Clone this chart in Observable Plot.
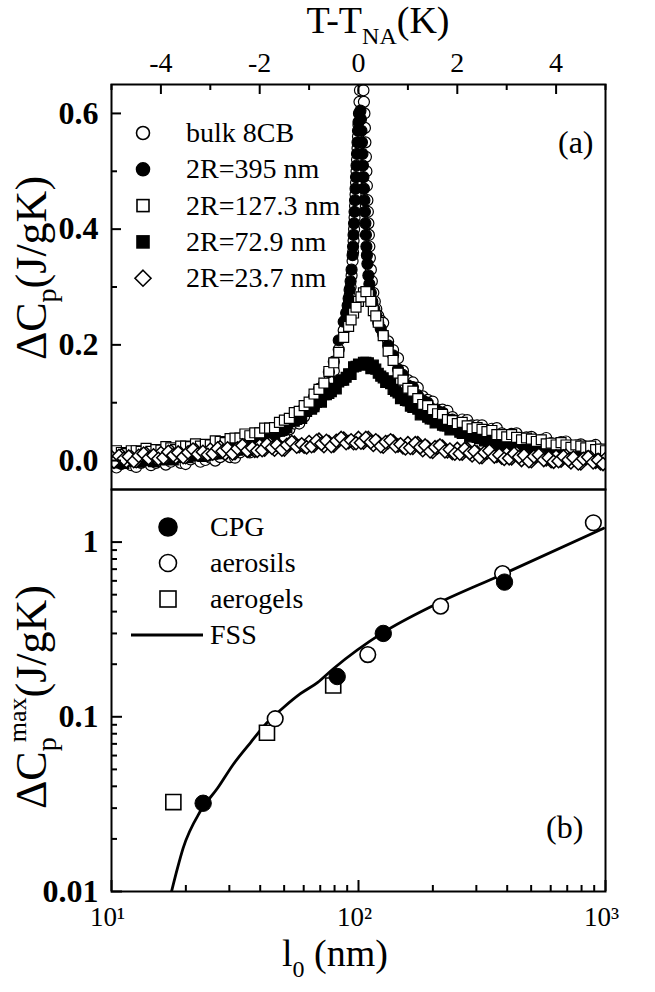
<!DOCTYPE html>
<html><head><meta charset="utf-8">
<script src="https://cdn.jsdelivr.net/npm/d3@7"></script>
<script src="https://cdn.jsdelivr.net/npm/@observablehq/plot@0.6"></script>
<style>
html,body{margin:0;padding:0;background:#fff;}
#wrap{position:relative;width:655px;height:992px;overflow:hidden;background:#fff;}
#wrap svg{position:absolute;left:0;}
</style></head><body><div id="wrap"></div>
<script>
// ---------------- DATA: panel (a) ----------------
const seriesLabels = ["bulk 8CB", "2R=395 nm", "2R=127.3 nm", "2R=72.9 nm", "2R=23.7 nm"];
const tGrid = [-5,-4.9,-4.8,-4.7,-4.6,-4.5,-4.4,-4.3,-4.2,-4.1,-4,-3.9,-3.8,-3.7,-3.6,-3.5,-3.4,-3.3,-3.2,-3.1,
  -3,-2.9,-2.8,-2.7,-2.6,-2.5,-2.4,-2.3,-2.2,-2.1,-2,-1.9,-1.8,-1.7,-1.6,-1.5,-1.4,-1.3,-1.2,-1.1,
  -1,-0.9,-0.8,-0.7,-0.6,-0.5,-0.4,-0.3,-0.2,-0.1,0,0.1,0.2,0.3,0.4,0.5,0.6,0.7,0.8,0.9,
  1,1.1,1.2,1.3,1.4,1.5,1.6,1.7,1.8,1.9,2,2.1,2.2,2.3,2.4,2.5,2.6,2.7,2.8,2.9,
  3,3.1,3.2,3.3,3.4,3.5,3.6,3.7,3.8,3.9,4,4.1,4.2,4.3,4.4,4.5,4.6,4.7,4.8,4.9,5];
const tHalf = [-4.95,-4.85,-4.75,-4.65,-4.55,-4.45,-4.35,-4.25,-4.15,-4.05,-3.95,-3.85,-3.75,-3.65,-3.55,-3.45,-3.35,-3.25,-3.15,-3.05,
  -2.95,-2.85,-2.75,-2.65,-2.55,-2.45,-2.35,-2.25,-2.15,-2.05,-1.95,-1.85,-1.75,-1.65,-1.55,-1.45,-1.35,-1.25,-1.15,-1.05,
  -0.95,-0.85,-0.75,-0.65,-0.55,-0.45,-0.35,-0.25,-0.15,-0.05,0.05,0.15,0.25,0.35,0.45,0.55,0.65,0.75,0.85,0.95,
  1.05,1.15,1.25,1.35,1.45,1.55,1.65,1.75,1.85,1.95,2.05,2.15,2.25,2.35,2.45,2.55,2.65,2.75,2.85,2.95,
  3.05,3.15,3.25,3.35,3.45,3.55,3.65,3.75,3.85,3.95,4.05,4.15,4.25,4.35,4.45,4.55,4.65,4.75,4.85,4.95];
const leftWingT = [-5,-4.9,-4.8,-4.7,-4.6,-4.5,-4.4,-4.3,-4.2,-4.1,-4,-3.9,-3.8,-3.7,-3.6,-3.5,-3.4,-3.3,-3.2,-3.1,
  -3,-2.9,-2.8,-2.7,-2.6,-2.5,-2.4,-2.3,-2.2,-2.1,-2,-1.9,-1.8,-1.7,-1.6,-1.5,-1.4,-1.3,-1.2,-1.1,
  -1,-0.9,-0.8,-0.7,-0.6,-0.5,-0.4,-0.3];
const rightWingT = [0.5,0.6,0.7,0.8,0.9,1,1.1,1.2,1.3,1.4,1.5,1.6,1.7,1.8,1.9,2,2.1,2.2,2.3,2.4,
  2.5,2.6,2.7,2.8,2.9,3,3.1,3.2,3.3,3.4,3.5,3.6,3.7,3.8,3.9,4,4.1,4.2,4.3,4.4,4.5,4.6,4.7,4.8,4.9,5];

// bulk 8CB (open circles)
const bulkLeftCp = [-.005,-.012,-.006,-.002,-.008,-.011,-.004,-.001,-.008,-.004,
  -.001,-.007,-.002,.003,-.004,-.006,.002,.004,-.002,.001,
  .005,.000,.006,.012,.006,.005,.014,.019,.014,.020,
  .025,.022,.031,.040,.038,.041,.054,.064,.064,.076,
  .088,.092,.109,.127,.138,.155,.192,.225];
const bulkPeakT = [-0.25,-0.22,-0.20,-0.18,-0.16,-0.14,-0.12,-0.11,-0.10,-0.09,-0.08,-0.07,-0.06,-0.05,-0.04,-0.03,-0.02,-0.01,0.00,0.01,0.02,0.03,0.04,0.06,
  0.09,0.10,0.11,0.12,0.13,0.14,0.15,0.16,0.17,0.18,0.19,0.20,0.21,0.22,0.23,0.25,0.27,0.30,0.33,0.36,0.40,0.45];
const bulkPeakCp = [.245,.258,.27,.285,.30,.32,.345,.36,.38,.40,.42,.44,.46,.48,.50,.52,.54,.56,.58,.60,.62,.64,.66,.70,
  .68,.64,.62,.60,.575,.55,.525,.50,.475,.45,.43,.41,.39,.37,.35,.33,.31,.29,.275,.262,.25,.242];
const bulkRightCp = [.238,.206,.191,.177,.155,.139,.135,.126,.111,.105,
  .102,.088,.088,.086,.075,.067,.071,.070,.061,.061,
  .061,.052,.055,.056,.047,.042,.046,.047,.038,.040,
  .041,.033,.036,.039,.030,.026,.032,.033,.024,.026,
  .028,.020,.024,.027,.019,.015];

// 2R = 395 nm (filled circles)
const r395LeftCp = [.000,.004,.007,.000,.005,.000,.007,.005,.004,.009,
  .004,.009,.011,.005,.009,.005,.013,.010,.010,.014,
  .010,.016,.019,.014,.019,.016,.025,.025,.026,.033,
  .030,.038,.044,.042,.051,.052,.065,.070,.077,.091,
  .095,.110,.124,.132,.153,.171,.208,.240];
const r395PeakT = [-0.25,-0.22,-0.20,-0.18,-0.16,-0.14,-0.12,-0.11,-0.10,-0.09,-0.08,-0.07,-0.06,-0.05,-0.04,-0.03,-0.02,-0.01,0.00,0.02,0.04,
  0.05,0.06,0.07,0.08,0.09,0.10,0.11,0.12,0.13,0.14,0.15,0.16,0.17,0.18,0.20,0.22,0.25,0.28,0.32,0.36,0.40,0.45];
const r395PeakCp = [.255,.268,.28,.295,.31,.33,.355,.37,.39,.41,.43,.45,.47,.49,.51,.53,.55,.57,.585,.60,.605,
  .59,.57,.55,.53,.51,.49,.47,.45,.43,.41,.39,.37,.355,.34,.32,.305,.29,.275,.262,.25,.238,.228];
const r395RightCp = [.218,.199,.182,.158,.148,.130,.127,.113,.104,.100,
  .089,.086,.083,.071,.071,.061,.065,.059,.055,.056,
  .048,.050,.050,.041,.043,.036,.041,.036,.034,.036,
  .029,.032,.032,.024,.026,.020,.026,.022,.019,.022,
  .016,.019,.020,.012,.015,.009];

// 2R = 127.3 nm (open squares), on tGrid + extra points near the peak
const r127Cp = [.011,.017,.014,.012,.017,.017,.016,.021,.016,.019,
  .018,.024,.022,.019,.025,.025,.024,.029,.025,.028,
  .027,.034,.033,.031,.038,.039,.039,.046,.043,.048,
  .048,.056,.056,.057,.066,.070,.073,.083,.085,.095,
  .101,.115,.123,.134,.154,.169,.187,.213,.232,.255,
  .275,.290,.287,.259,.239,.216,.189,.173,.151,.139,
  .125,.120,.107,.097,.095,.088,.081,.080,.071,.069,
  .064,.066,.060,.055,.057,.054,.050,.052,.045,.045,
  .041,.045,.040,.036,.039,.037,.033,.036,.029,.030,
  .027,.031,.027,.023,.027,.025,.022,.025,.019,.020,
  .017];
const r127ExtraT = [-0.15,-0.05,0.05,0.15,0.25,0.35];
const r127ExtraCp = [.243,.265,.283,.292,.275,.250];

// 2R = 72.9 nm (filled squares), on tGrid and tHalf
const r73Cp = [.002,-.003,.002,.004,.000,.001,.006,.000,.004,.006,
  .007,.003,.008,.010,.006,.008,.013,.008,.012,.015,
  .016,.012,.018,.021,.018,.021,.028,.025,.030,.035,
  .038,.037,.044,.051,.051,.058,.068,.068,.076,.085,
  .091,.093,.104,.114,.116,.125,.136,.139,.150,.162,
  .167,.170,.169,.165,.151,.143,.138,.123,.117,.111,
  .103,.092,.089,.086,.075,.072,.071,.061,.060,.059,
  .056,.047,.048,.048,.040,.039,.041,.033,.034,.034,
  .032,.025,.028,.028,.022,.021,.024,.016,.018,.018,
  .017,.011,.014,.015,.009,.009,.012,.005,.008,.009,
  .008];
const r73HalfCp = [-.004,.002,-.005,.001,-.001,-.003,.005,.002,-.002,.004,
  .001,.007,.001,.008,.006,.005,.013,.010,.007,.013,
  .011,.017,.012,.020,.018,.018,.028,.027,.026,.034,
  .034,.042,.040,.051,.053,.057,.070,.071,.073,.085,
  .089,.101,.101,.114,.119,.124,.139,.144,.149,.163,
  .165,.170,.159,.158,.146,.135,.133,.120,.107,.104,
  .094,.092,.079,.080,.072,.065,.068,.060,.053,.055,
  .049,.051,.041,.044,.038,.034,.039,.033,.027,.030,
  .025,.029,.020,.024,.020,.016,.022,.017,.011,.015,
  .011,.015,.007,.012,.008,.005,.011,.006,.001,.005];

// 2R = 23.7 nm (open diamonds), on tGrid and tHalf
const r24Cp = [.006,.000,.009,-.001,.006,-.001,.009,.012,.005,.004,
  .013,.006,.016,.006,.012,.006,.016,.018,.012,.011,
  .019,.013,.023,.012,.019,.013,.022,.025,.018,.017,
  .026,.019,.029,.019,.025,.019,.029,.031,.025,.024,
  .032,.026,.036,.025,.032,.026,.035,.038,.032,.030,
  .039,.031,.039,.027,.032,.024,.032,.033,.026,.023,
  .030,.022,.030,.018,.023,.015,.023,.024,.016,.013,
  .020,.012,.020,.009,.014,.006,.014,.015,.008,.005,
  .012,.004,.013,.001,.007,-.001,.008,.009,.002,-.001,
  .007,.000,.008,-.003,.002,-.005,.004,.005,-.002,-.005,
  .003];
const r24HalfCp = [-.002,.008,.003,.007,-.001,.008,.012,.004,.009,.003,
  .005,.015,.009,.014,.006,.014,.019,.011,.015,.010,
  .012,.021,.016,.021,.012,.021,.026,.017,.022,.017,
  .018,.028,.022,.027,.019,.027,.032,.024,.028,.023,
  .025,.034,.029,.034,.025,.034,.039,.030,.035,.030,
  .031,.039,.032,.035,.025,.032,.035,.025,.028,.021,
  .022,.030,.023,.026,.016,.023,.026,.016,.019,.012,
  .012,.020,.013,.016,.006,.014,.017,.007,.010,.003,
  .004,.012,.006,.009,-.001,.007,.010,.001,.005,-.002,
  -.001,.007,.001,.005,-.005,.003,.006,-.003,.001,-.006];

// ticks panel (a)
const tMajorTicks = [-4,-2,0,2,4];
const tMinorTicks = [-5,-3,-1,1,3,5];
const cpMajorTicks = [0.0,0.2,0.4,0.6];
const cpMinorTicks = [0.1,0.3,0.5];

// ---------------- DATA: panel (b) ----------------
const legendB = ["CPG", "aerosils", "aerogels", "FSS"];
const cpgL0 = [23.5, 82, 126, 390];
const cpgMax = [0.032, 0.170, 0.300, 0.590];
const aerosilL0 = [46, 109, 215, 383, 893];
const aerosilMax = [0.0975, 0.227, 0.430, 0.660, 1.29];
const aerogelL0 = [17.8, 42.6, 79];
const aerogelMax = [0.0325, 0.081, 0.151];
const fssL0 = [17.5, 18.5, 19.5, 22.9, 26.9, 31.2, 36.5, 42.6, 49.7, 58.2, 68.2, 79.3, 126, 201, 376, 982];
const fssMax = [0.0100, 0.0136, 0.0177, 0.0288, 0.0391, 0.0537, 0.0710, 0.0924, 0.113, 0.1355, 0.157, 0.189, 0.304, 0.434, 0.646, 1.20];
const l0MajorTicks = [10, 100, 1000];
const l0MinorTicks = [20,30,40,50,60,70,80,90,200,300,400,500,600,700,800,900];
const maxMajorTicks = [0.01, 0.1, 1];
const maxMinorTicks = [0.02,0.03,0.04,0.05,0.06,0.07,0.08,0.09,0.2,0.3,0.4,0.5,0.6,0.7,0.8,0.9];
const supDigits = {1: "\u00b9", 2: "\u00b2", 3: "\u00b3"};

// ---------------- BUILD ----------------
const font = '"Liberation Serif", "Times New Roman", Times, serif';
const zip = (ts, cs) => ts.map((t, i) => ({t, cp: cs[i]}));
const bulkData = [...zip(leftWingT, bulkLeftCp), ...zip(bulkPeakT, bulkPeakCp), ...zip(rightWingT, bulkRightCp)];
const r395Data = [...zip(leftWingT, r395LeftCp), ...zip(r395PeakT, r395PeakCp), ...zip(rightWingT, r395RightCp)];
const r127Data = [...zip(tGrid, r127Cp), ...zip(r127ExtraT, r127ExtraCp)];
const r73Data = [...zip(tGrid, r73Cp), ...zip(tHalf, r73HalfCp)];
const r24Data = [...zip(tGrid, r24Cp), ...zip(tHalf, r24HalfCp)];

const diamondSym = {draw(ctx, size) { const r = Math.sqrt(size / Math.PI) * 1.1; ctx.moveTo(0, -r); ctx.lineTo(r, 0); ctx.lineTo(0, r); ctx.lineTo(-r, 0); ctx.closePath(); }};

const wrap = document.getElementById("wrap");
const st = {fontFamily: font, background: "transparent", overflow: "visible", color: "black"};
const innerWA = 655 - 111 - 50;
const innerHA = 489 - 84;
const innerHB = 503 - 101;
const id = d => d;

const plotA = Plot.plot({
  width: 655, height: 489,
  marginTop: 84, marginLeft: 111, marginRight: 50, marginBottom: 0,
  style: st,
  x: {domain: [-5, 5], axis: null},
  y: {domain: [-0.05, 0.65], axis: null},
  marks: [
    Plot.dot(bulkData, {x: "t", y: "cp", r: 5.5, fill: "white", stroke: "black", strokeWidth: 1.2, clip: true}),
    Plot.dot(r395Data, {x: "t", y: "cp", r: 5.5, fill: "black", stroke: "black", strokeWidth: 1.2, clip: true}),
    Plot.dot(r73Data, {x: "t", y: "cp", r: 5.6, symbol: "square", fill: "black", stroke: "black", strokeWidth: 1.2, clip: true}),
    Plot.dot(r127Data, {x: "t", y: "cp", r: 5.6, symbol: "square", fill: "white", stroke: "black", strokeWidth: 1.2, clip: true}),
    Plot.dot(r24Data, {x: "t", y: "cp", r: 6.0, symbol: diamondSym, fill: "white", stroke: "black", strokeWidth: 1.5, clip: true}),
    Plot.frame({stroke: "black", strokeWidth: 2}),
    Plot.ruleX(tMajorTicks, {x: id, insetBottom: innerHA - 10, strokeWidth: 2}),
    Plot.ruleX(tMinorTicks, {x: id, insetBottom: innerHA - 6, strokeWidth: 2}),
    Plot.text(tMajorTicks, {x: id, text: d => String(d), frameAnchor: "top", lineAnchor: "bottom", dy: -13, fontSize: 28}),
    Plot.ruleY(cpMajorTicks, {y: id, insetRight: innerWA - 10, strokeWidth: 2}),
    Plot.ruleY(cpMinorTicks, {y: id, insetRight: innerWA - 6, strokeWidth: 2}),
    Plot.text(cpMajorTicks, {y: id, text: d3.format(".1f"), frameAnchor: "left", textAnchor: "end", dx: -13, fontSize: 32, fontWeight: "bold"})
  ]
});
plotA.style.top = "0px";
wrap.appendChild(plotA);

const plotB = Plot.plot({
  width: 655, height: 503,
  marginTop: 0, marginLeft: 111, marginRight: 50, marginBottom: 101,
  style: st,
  x: {type: "log", domain: [10, 1000], axis: null},
  y: {type: "log", domain: [0.01, 2.0], axis: null},
  marks: [
    Plot.line(fssL0.map((l, i) => ({l, m: fssMax[i]})), {x: "l", y: "m", stroke: "black", strokeWidth: 2.8, curve: "monotone-x", clip: true}),
    Plot.dot(aerogelL0.map((l, i) => ({l, m: aerogelMax[i]})), {x: "l", y: "m", r: 8.5, symbol: "square", fill: "white", stroke: "black", strokeWidth: 1.6}),
    Plot.dot(aerosilL0.map((l, i) => ({l, m: aerosilMax[i]})), {x: "l", y: "m", r: 7.8, fill: "white", stroke: "black", strokeWidth: 1.6}),
    Plot.dot(cpgL0.map((l, i) => ({l, m: cpgMax[i]})), {x: "l", y: "m", r: 8.2, fill: "black", stroke: "black", strokeWidth: 1}),
    Plot.frame({stroke: "black", strokeWidth: 2}),
    Plot.ruleX(l0MajorTicks, {x: id, insetTop: innerHB - 11, strokeWidth: 2}),
    Plot.ruleX(l0MinorTicks, {x: id, insetTop: innerHB - 6, strokeWidth: 2}),
    Plot.text(l0MajorTicks, {x: id, text: d => "10" + supDigits[Math.round(Math.log10(d))], frameAnchor: "bottom", lineAnchor: "top", dy: 15, dx: -4, fontSize: 27}),
    Plot.ruleY(maxMajorTicks, {y: id, insetRight: innerWA - 11, strokeWidth: 2}),
    Plot.ruleY(maxMinorTicks, {y: id, insetRight: innerWA - 6, strokeWidth: 2}),
    Plot.text(maxMajorTicks, {y: id, text: d => String(d), frameAnchor: "left", textAnchor: "end", dx: -13, fontSize: 32, fontWeight: "bold"})
  ]
});
plotB.style.top = "489px";
wrap.appendChild(plotB);

// ---------------- Titles & legends (overlay) ----------------
const ov = d3.select(wrap).append("svg")
  .attr("width", 655).attr("height", 992)
  .style("top", "0px").style("pointer-events", "none")
  .attr("font-family", font).attr("fill", "black");

const tt = ov.append("text").attr("x", 378).attr("y", 33).attr("text-anchor", "middle").attr("font-size", 38);
tt.append("tspan").text("T-T");
tt.append("tspan").attr("font-size", 24).attr("dy", 11).text("NA");
tt.append("tspan").attr("dy", -11).text("(K)");

const ya = ov.append("text").attr("transform", "translate(46,268) rotate(-90)").attr("text-anchor", "middle").attr("font-size", 44);
ya.append("tspan").text("\u0394C");
ya.append("tspan").attr("font-size", 28).attr("dy", 10).text("p");
ya.append("tspan").attr("dy", -10).text("(J/gK)");

const yb = ov.append("text").attr("transform", "translate(46,697) rotate(-90)").attr("text-anchor", "middle").attr("font-size", 44);
yb.append("tspan").text("\u0394C");
yb.append("tspan").attr("font-size", 28).attr("dy", 10).text("p");
yb.append("tspan").attr("font-size", 26).attr("dx", -5).attr("dy", -30).text("max");
yb.append("tspan").attr("dy", 20).text("(J/gK)");

const xb = ov.append("text").attr("x", 335).attr("y", 966).attr("text-anchor", "middle").attr("font-size", 38);
xb.append("tspan").text("l");
xb.append("tspan").attr("font-size", 24).attr("dy", 11).text("0");
xb.append("tspan").attr("dy", -11).text(" (nm)");

ov.append("text").attr("x", 558).attr("y", 153).attr("font-size", 32).text("(a)");
ov.append("text").attr("x", 546).attr("y", 838).attr("font-size", 32).text("(b)");

const symA = [
  {shape: "circle", fill: "white", s: 6.5},
  {shape: "circle", fill: "black", s: 6.5},
  {shape: "square", fill: "white", s: 6},
  {shape: "square", fill: "black", s: 6},
  {shape: "diamond", fill: "white", s: 8}
];
function drawSym(g, cx, cy, d) {
  if (d.shape === "circle") g.append("circle").attr("cx", cx).attr("cy", cy).attr("r", d.s).attr("fill", d.fill).attr("stroke", "black").attr("stroke-width", 1.6);
  else if (d.shape === "square") g.append("rect").attr("x", cx - d.s).attr("y", cy - d.s).attr("width", 2 * d.s).attr("height", 2 * d.s).attr("fill", d.fill).attr("stroke", "black").attr("stroke-width", 1.6);
  else g.append("path").attr("d", `M${cx},${cy - d.s}L${cx + d.s},${cy}L${cx},${cy + d.s}L${cx - d.s},${cy}Z`).attr("fill", d.fill).attr("stroke", "black").attr("stroke-width", 1.6);
}
seriesLabels.forEach((lab, i) => {
  const cy = 133 + i * 36.3;
  drawSym(ov, 143, cy, symA[i]);
  ov.append("text").attr("x", 186).attr("y", cy + 9).attr("font-size", 28).text(lab);
});

const symB = [
  {shape: "circle", fill: "black", s: 9},
  {shape: "circle", fill: "white", s: 8.5},
  {shape: "square", fill: "white", s: 8},
  {shape: "line"}
];
legendB.forEach((lab, i) => {
  const cy = 527 + i * 36;
  if (symB[i].shape === "line") ov.append("line").attr("x1", 131).attr("x2", 203).attr("y1", cy).attr("y2", cy).attr("stroke", "black").attr("stroke-width", 3);
  else drawSym(ov, 168, cy, symB[i]);
  ov.append("text").attr("x", 210).attr("y", cy + 9).attr("font-size", 28).text(lab);
});
</script>
</body></html>
